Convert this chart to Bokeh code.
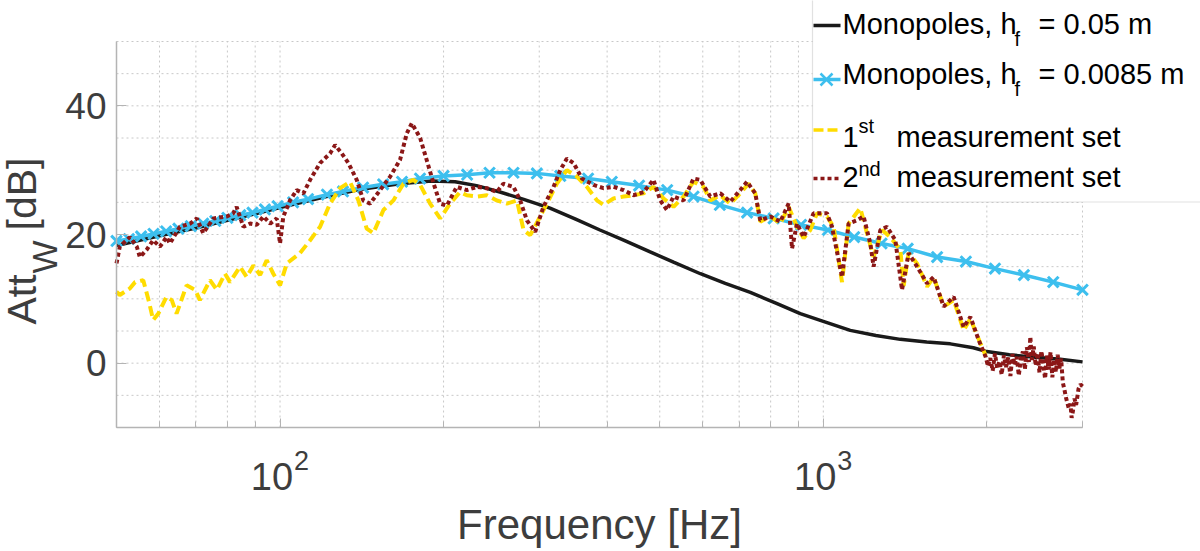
import numpy as np
from bokeh.plotting import figure
from bokeh.models import FixedTicker, Label, BoxAnnotation, Arrow
from bokeh.embed import file_html
from bokeh.resources import INLINE

# ---------------- data ----------------
freq_mono_005 = [50, 60, 70, 80, 90, 100, 120, 140, 166, 190, 210, 230, 254, 280, 314, 350, 388,
                 430, 480, 530, 594, 660, 734, 820, 907, 1000, 1121, 1250, 1386, 1550, 1713, 1889,
                 2000, 2200, 2400, 2730, 3000]
att_mono_005 = [18.3, 19.8, 21.0, 22.2, 23.2, 24.2, 25.8, 27.0, 27.9, 28.3, 28.2, 27.6, 26.6, 25.5,
                24.1, 22.4, 20.7, 19.1, 17.3, 15.7, 13.9, 12.4, 11.0, 9.3, 7.7, 6.5, 5.1, 4.3, 3.7,
                3.3, 3.0, 2.4, 1.8, 1.3, 1.0, 0.6, 0.2]

freq_mono_00085 = [50, 52.7, 55.5, 58.5, 61.7, 65, 68.5, 72.2, 76, 80, 84.5, 89, 93.8, 99, 105.7,
                   112.6, 122, 130.6, 142.2, 154.8, 167.7, 181, 200, 221, 243, 269, 297, 328, 369,
                   408, 458, 516, 577, 645, 724, 810, 910, 1020, 1140, 1280, 1430, 1620, 1830,
                   2070, 2340, 2650, 3000]
att_mono_00085 = [19.0, 19.3, 19.7, 20.1, 20.5, 20.9, 21.3, 21.7, 22.1, 22.6, 23.0, 23.4, 23.9,
                  24.4, 25.0, 25.5, 26.2, 26.7, 27.3, 27.8, 28.2, 28.7, 29.1, 29.3, 29.6, 29.6,
                  29.5, 29.1, 28.7, 28.2, 27.6, 26.9, 25.9, 24.6, 23.4, 22.5, 21.5, 20.7, 19.6,
                  18.6, 17.8, 16.5, 15.8, 14.7, 13.7, 12.6, 11.4]

freq_meas1 = [50, 50.7, 52.9, 54.1, 56.0, 57.4, 58.4, 59.7, 61.8, 63.2, 64.5, 67.3, 69.8, 71.2,
              74.3, 76.5, 79.2, 80.9, 84.4, 86.8, 89.3, 91.9, 94.5, 97.2, 100, 102.9, 108.8,
              113.6, 118.5, 123.6, 129.0, 134.5, 139.4, 144.4, 148.5, 155.0, 161.7, 168.7, 176.0,
              181.1, 188.9, 197.1, 205.6, 214.5, 220.7, 230.3, 240.3, 250.6, 261.5, 272.9, 280.7,
              288.7, 301.2, 309.9, 323.3, 337.3, 352.0, 367.2, 383.1, 393.9, 411.0, 428.8, 447.3,
              466.9, 486.9, 508.1, 530.1, 553.1, 576.9, 602.0, 619.3, 646.1, 674.1, 703.3, 728.6,
              749.5, 765.6, 798.8, 833.4, 863.3, 894.5, 920.0, 946.4, 973.6, 1015.8, 1044.7,
              1082.5, 1113.3, 1169.8, 1203.4, 1237.6, 1282.6, 1328.6, 1386.1, 1405.7, 1435.8,
              1488.0, 1552.4, 1596.3, 1665.4, 1737.8, 1813.1, 1865.3, 1945.8, 1990]
att_meas1 = [11.1, 10.6, 11.6, 12.6, 12.9, 9.5, 6.7, 7.7, 10.3, 9.8, 7.7, 12.1, 11.4, 9.8, 12.9,
             11.4, 13.9, 12.6, 15.0, 13.4, 15.2, 13.7, 16.0, 13.9, 12.1, 15.5, 17.1, 19.1, 21.2,
             24.8, 27.2, 28.2, 25.3, 20.9, 20.2, 23.8, 25.3, 27.9, 28.5, 27.7, 24.8, 22.5, 24.8,
             26.6, 26.1, 25.9, 26.1, 25.3, 24.8, 25.3, 20.7, 19.9, 22.8, 24.8, 27.9, 30.0, 29.0,
             27.4, 25.3, 24.6, 25.6, 25.9, 26.1, 26.4, 27.4, 25.6, 24.3, 25.9, 28.2, 27.4, 25.3,
             26.1, 24.8, 26.4, 27.9, 26.4, 22.0, 22.8, 21.7, 24.3, 21.2, 19.4, 20.7, 23.3, 22.8,
             21.2, 12.6, 21.7, 24.1, 20.2, 16.5, 20.7, 19.6, 17.6, 12.0, 17.1, 15.5, 11.9, 13.4,
             8.8, 9.8, 5.1, 6.9, 3.1, 1.2]

freq_meas2 = [50, 50.7, 52.9, 54.5, 55.2, 56.8, 58.4, 60.1, 61.8, 62.7, 65.4, 68.3, 70.3, 72.2,
              75.4, 79.8, 82.0, 83.2, 85.6, 88.1, 90.6, 93.2, 95.9, 98.6, 100, 101.4, 104.3,
              107.3, 110.4, 113.6, 118.5, 123.6, 126.3, 129.9, 133.6, 138.4, 142.3, 146.5, 152.8,
              159.5, 166.3, 171.1, 174.8, 181.1, 186.3, 191.6, 197.1, 202.8, 211.5, 220.7, 230.3,
              240.3, 250.6, 257.7, 269.0, 276.7, 284.7, 294.9, 305.4, 318.7, 327.9, 337.3, 347.0,
              359.5, 377.6, 393.9, 411.0, 428.8, 447.3, 466.9, 486.9, 501.0, 515.5, 530.1, 553.1,
              576.9, 593.6, 619.3, 646.1, 674.1, 703.3, 723.7, 749.5, 765.6, 798.8, 833.4, 863.3,
              875.9, 894.5, 920.0, 959.7, 1015.8, 1037.5, 1082.5, 1113.3, 1153.5, 1186.3, 1220.6,
              1237.6, 1273.5, 1310.1, 1357.0, 1396.0, 1435.8, 1488.0, 1552.4, 1596.3, 1665.4,
              1737.8, 1813.1, 1865.3, 1931.9, 1990, 2010, 2030, 2050, 2070, 2090, 2110, 2130,
              2150, 2170, 2190, 2210, 2230, 2250, 2270, 2290, 2310, 2330, 2350, 2370, 2390, 2405,
              2420, 2440, 2460, 2480, 2500, 2520, 2540, 2560, 2580, 2600, 2620, 2640, 2660, 2680,
              2700, 2720, 2740, 2760, 2780, 2800, 2830, 2850, 2865, 2880, 2900, 2920, 2950, 2975,
              3000]
att_meas2 = [15.5, 18.1, 19.6, 18.1, 16.5, 17.6, 19.1, 18.1, 19.6, 18.6, 21.2, 21.7, 22.5, 20.2,
             22.5, 22.8, 23.3, 24.3, 21.2, 21.7, 21.5, 22.8, 21.7, 22.5, 18.6, 22.8, 25.3, 26.9,
             26.4, 28.5, 31.1, 32.6, 33.9, 32.6, 31.1, 28.5, 25.3, 24.8, 26.9, 29.0, 31.6, 35.7,
             37.3, 35.0, 31.5, 28.0, 24.8, 24.5, 27.4, 26.9, 27.4, 27.2, 26.6, 27.9, 27.4, 25.3,
             22.2, 20.4, 24.3, 27.4, 30.0, 31.8, 31.1, 28.7, 27.7, 27.2, 27.4, 26.9, 26.1, 26.6,
             28.5, 25.3, 23.8, 25.9, 25.3, 28.7, 28.5, 25.9, 26.4, 25.1, 26.9, 28.2, 26.4, 22.2,
             22.8, 22.0, 24.8, 17.8, 21.7, 19.6, 23.3, 23.3, 21.2, 13.4, 21.7, 22.2, 22.8, 18.6,
             15.0, 20.7, 21.2, 19.1, 11.4, 17.1, 15.0, 12.4, 13.4, 8.8, 10.3, 5.6, 7.2, 3.6, 1.0,
             -0.5, 0.8, -1.2, 1.5, -0.8, 0.3, -1.8, 1.2, -0.6, 0.9, -2.0, 1.4, -0.3, 1.0, -1.9,
             0.6, 1.8, -1.0, 2.5, 0.2, 4.1, 0.5, 2.6, -0.4, 1.6, -1.5, 1.9, 0.0, -2.4, 1.2, -1.0,
             1.7, -2.2, 0.6, -1.4, 1.3, -0.8, 0.7, -3.0, -4.2, -5.5, -7.0, -6.3, -8.5, -7.5,
             -5.5, -6.5, -4.0, -3.3, -3.6]

x_major_ticks = [100, 1000]
x_minor_ticks = [50, 60, 70, 80, 90, 200, 300, 400, 500, 600, 700, 800, 900, 2000, 3000]
x_tick_bases = ["10", "10"]
x_tick_exps = ["2", "3"]
y_major_ticks = [0, 20, 40]
y_minor_ticks = [-10, -5, 5, 10, 15, 25, 30, 35, 45, 50]

legend_main = ["Monopoles, h", "Monopoles, h", "1", "2"]
legend_script = ["f", "f", "st", "nd"]
legend_tail = ["= 0.05 m", "= 0.0085 m", "measurement set", "measurement set"]

C_BLACK = "#1a1a1a"
C_CYAN = "#3dbfee"
C_YELLOW = "#ffdc00"
C_RED = "#8b1717"
TXT = "#3d3d3d"
GRID = "#c8c8c8"
AXIS = "#b4b4b4"
FONT = "Liberation Sans"

# ---------------- geometry ----------------
W, H = 1200, 551
XMIN, XMAX, YMIN, YMAX = 50, 3000, -10, 50
FL, FR, FT, FB = 116, 1082, 41, 427      # plot box in canvas pixels
K_H, K_R = 0.36, 0.42                    # baseline correction (fraction of font size)


def X(px):
    return 10 ** (np.log10(XMIN) + (px - FL) / (FR - FL) * (np.log10(XMAX) - np.log10(XMIN)))


def Y(py):
    return YMAX - (py - FT) / (FB - FT) * (YMAX - YMIN)


def hlabel(px, base_py, text, fs, color, align="left", x_data=None, x_offset=0):
    xx = X(px) if x_data is None else x_data
    p.add_layout(Label(x=xx, y=Y(base_py - K_H * fs), x_offset=x_offset, text=text,
                       text_align=align, text_baseline="alphabetic", text_font=FONT,
                       text_font_size=f"{fs}px", text_color=color))


def vlabel(base_px, start_py, text, fs, color):
    p.add_layout(Label(x=X(base_px - K_R * fs), y=Y(start_py), text=text, angle=np.pi / 2,
                       text_align="left", text_baseline="alphabetic", text_font=FONT,
                       text_font_size=f"{fs}px", text_color=color))


p = figure(width=W, height=H, x_axis_type="log", x_range=(X(0), X(W)), y_range=(Y(H), Y(0)),
           output_backend="svg", toolbar_location=None, title=None,
           min_border_left=0, min_border_right=0, min_border_top=0, min_border_bottom=0)
p.outline_line_color = None
p.background_fill_color = "white"
p.border_fill_color = "white"
p.xgrid.visible = False
p.ygrid.visible = False

xt = FixedTicker(ticks=x_major_ticks, minor_ticks=x_minor_ticks)
yt = FixedTicker(ticks=y_major_ticks, minor_ticks=y_minor_ticks)
p.xaxis.ticker = xt
p.yaxis.ticker = yt
p.xaxis.fixed_location = YMIN
p.yaxis.fixed_location = XMIN
p.xaxis.bounds = (XMIN, XMAX)
p.yaxis.bounds = (YMIN, YMAX)

for ax in (p.xaxis, p.yaxis):
    ax.axis_line_color = AXIS
    ax.axis_line_width = 1.5
    ax.major_tick_line_color = AXIS
    ax.minor_tick_line_color = AXIS
    ax.major_tick_out = 0
    ax.minor_tick_out = 0
    ax.major_label_text_font = FONT
    ax.major_label_text_color = TXT

p.xaxis.major_tick_in = 9
p.xaxis.minor_tick_in = 6
p.xaxis.major_label_overrides = {t: "" for t in x_major_ticks}
p.yaxis.major_tick_in = 10
p.yaxis.minor_tick_in = 0
p.yaxis.major_label_text_font_size = "37px"
p.yaxis.major_label_standoff = 10

# ---------------- dotted grid (major + minor) ----------------
all_x = sorted(x_major_ticks + x_minor_ticks)
all_y = sorted(y_major_ticks + y_minor_ticks)
p.segment(x0=all_x, y0=[YMIN] * len(all_x), x1=all_x, y1=[YMAX] * len(all_x),
          line_color=GRID, line_width=1, line_dash="2 3")
p.segment(x0=[XMIN] * len(all_y), y0=all_y, x1=[XMAX] * len(all_y), y1=all_y,
          line_color=GRID, line_width=1, line_dash="2 3")

# ---------------- curves ----------------
p.line(freq_mono_005, att_mono_005, line_color=C_BLACK, line_width=3.5)
p.line(freq_mono_00085, att_mono_00085, line_color=C_CYAN, line_width=3.5)
p.scatter(freq_mono_00085, att_mono_00085, marker="x", size=15, line_color=C_CYAN, line_width=3)
p.line(freq_meas1, att_meas1, line_color=C_YELLOW, line_width=4, line_dash="10 5")
p.line(freq_meas2, att_meas2, line_color=C_RED, line_width=4, line_dash="4 3")

# ---------------- x tick labels (10^n) ----------------
for t, b, e in zip(x_major_ticks, x_tick_bases, x_tick_exps):
    hlabel(None, 490, b, 38, TXT, align="right", x_data=t, x_offset=13)
    hlabel(None, 470, e, 27, TXT, align="left", x_data=t, x_offset=14)

# ---------------- axis titles ----------------
hlabel(599, 539, "Frequency [Hz]", 42, TXT, align="center")
vlabel(39, 324, "Att", 41, TXT)
vlabel(59, 273, "W", 35, TXT)
vlabel(39, 230, "[dB]", 41, TXT)

# ---------------- legend ----------------
p.add_layout(BoxAnnotation(left=X(812), right=X(1260), top=Y(-30), bottom=Y(201.5),
                           fill_color="white", fill_alpha=1.0, line_color="#9a9a9a",
                           line_width=1.2))

sample_y = [25, 79, 129.5, 178]
base_y = [33.5, 83.5, 146.5, 187]
script_y = [46, 96, 132.5, 175.5]
script_x = [1014, 1014, 858, 858]
tail_x = [1038, 1038, 896, 896]
styles = [(C_BLACK, None), (C_CYAN, None), (C_YELLOW, "10 4"), (C_RED, "4 3")]

for i, (col, dash) in enumerate(styles):
    kw = dict(line_color=col, line_width=3.5)
    if dash:
        kw["line_dash"] = dash
    p.add_layout(Arrow(end=None, x_start=X(813), y_start=Y(sample_y[i]), x_end=X(840),
                       y_end=Y(sample_y[i]), **kw))
    if i == 1:
        for dy in (-6, 6):
            p.add_layout(Arrow(end=None, x_start=X(820), y_start=Y(sample_y[i] - dy),
                               x_end=X(832), y_end=Y(sample_y[i] + dy), line_color=col,
                               line_width=2.5))
    hlabel(842, base_y[i], legend_main[i], 29, "black")
    hlabel(script_x[i], script_y[i], legend_script[i], 20, "black")
    hlabel(tail_x[i], base_y[i], legend_tail[i], 29, "black")

open("out.html", "w").write(file_html(p, INLINE))
